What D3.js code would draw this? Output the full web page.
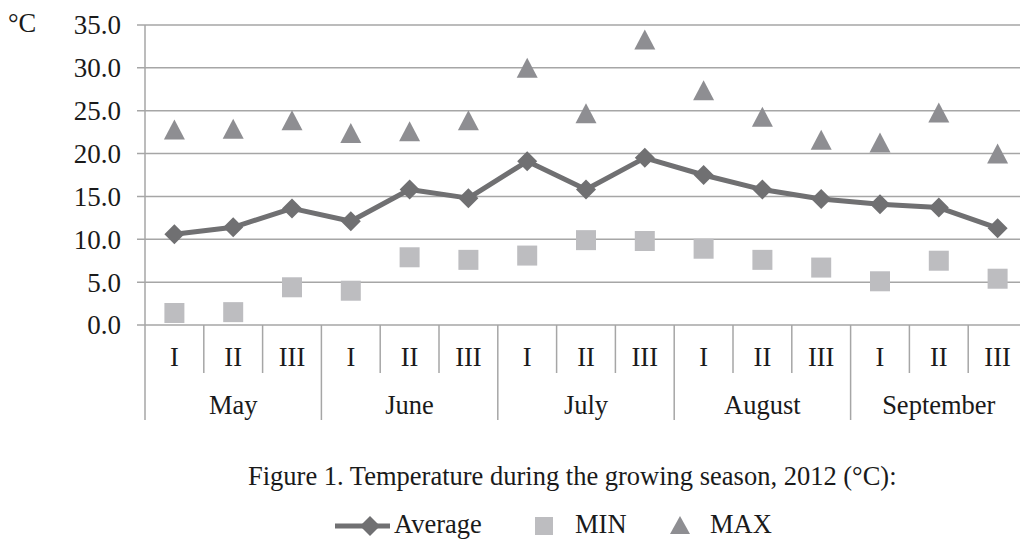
<!DOCTYPE html>
<html><head><meta charset="utf-8">
<script src="https://cdn.jsdelivr.net/npm/d3@7"></script>
<style>body{margin:0;background:#fff}svg{display:block;font-family:"Liberation Serif","Times New Roman",serif}</style>
</head><body><svg id="c" width="1020" height="539"></svg>
<script>
const months = ["May","June","July","August","September"];
const decades = ["I","II","III"];
const average = [10.6,11.4,13.6,12.1,15.8,14.8,19.1,15.8,19.5,17.5,15.8,14.7,14.1,13.7,11.3];
const minT = [1.4,1.5,4.4,4.0,7.9,7.6,8.1,9.9,9.8,8.9,7.6,6.7,5.1,7.5,5.4];
const maxT = [22.8,22.9,23.9,22.4,22.6,23.9,30.0,24.7,33.3,27.4,24.3,21.6,21.3,24.8,20.0];
const yTicks = [0,5,10,15,20,25,30,35];

const cats = [];
months.forEach(m => decades.forEach(d => cats.push(m + "|" + d)));

const svg = d3.select("#c");
const L = 145, R = 1027, T = 25, B = 325;
const x = d3.scaleBand().domain(cats).range([L, R]);
const y = d3.scaleLinear().domain([0, 35]).range([B, T]);
const gridC = "#a6a6a6";
const txtC = "#1a1a1a";
const FS = 26.5;

// gridlines and y ticks
svg.append("g").selectAll("line").data(yTicks).join("line")
  .attr("x1", L - 8).attr("x2", 1020)
  .attr("y1", d => y(d)).attr("y2", d => y(d))
  .attr("stroke", gridC).attr("stroke-width", 1.5);
svg.append("g").selectAll("text").data(yTicks).join("text")
  .attr("x", 121).attr("y", d => y(d)).attr("dy", "0.35em")
  .attr("text-anchor", "end").attr("font-size", 27).attr("fill", txtC)
  .text(d => d.toFixed(1));
svg.append("text").attr("x", 8).attr("y", 23).attr("dy", "0.35em")
  .attr("font-size", FS).attr("fill", txtC).text("°C");

// left axis
svg.append("line").attr("x1", L).attr("x2", L).attr("y1", T).attr("y2", 420)
  .attr("stroke", gridC).attr("stroke-width", 1.5);

// category separators
const g2 = svg.append("g");
cats.forEach((c, i) => {
  const xr = x(c) + x.bandwidth();
  const isMonthEnd = (i % 3 === 2);
  g2.append("line").attr("x1", xr).attr("x2", xr).attr("y1", B)
    .attr("y2", isMonthEnd ? 420 : 373).attr("stroke", gridC).attr("stroke-width", 1.5);
});
g2.selectAll("text.sub").data(cats).join("text").attr("class","sub")
  .attr("x", d => x(d) + x.bandwidth()/2).attr("y", 357).attr("dy","0.35em")
  .attr("text-anchor","middle").attr("font-size",FS).attr("fill",txtC)
  .text(d => d.split("|")[1]);
g2.selectAll("text.mon").data(months).join("text").attr("class","mon")
  .attr("x", m => (x(m+"|I") + x(m+"|III") + x.bandwidth())/2).attr("y", 405).attr("dy","0.35em")
  .attr("text-anchor","middle").attr("font-size",FS).attr("fill",txtC)
  .text(m => m);

const cx = i => x(cats[i]) + x.bandwidth()/2;
const lineC = "#707072", minC = "#bdbdc0", maxC = "#8e8e92";

// MIN squares
svg.append("g").selectAll("rect").data(minT).join("rect")
  .attr("x", (d,i) => cx(i) - 10).attr("y", d => y(d) - 10)
  .attr("width", 20).attr("height", 20).attr("fill", minC);

// MAX triangles
svg.append("g").selectAll("path").data(maxT).join("path")
  .attr("d", "M0,-10L10.5,10L-10.5,10Z")
  .attr("transform", (d,i) => `translate(${cx(i)},${y(d)})`).attr("fill", maxC);

// Average line
svg.append("path").datum(average)
  .attr("d", d3.line().x((d,i) => cx(i)).y(d => y(d)))
  .attr("fill","none").attr("stroke", lineC).attr("stroke-width", 5).attr("stroke-linejoin","round");
svg.append("g").selectAll("path").data(average).join("path")
  .attr("d","M0,-10L10,0L0,10L-10,0Z")
  .attr("transform", (d,i) => `translate(${cx(i)},${y(d)})`).attr("fill", lineC);

// caption
svg.append("text").attr("x", 248).attr("y", 485)
  .attr("font-size",FS).attr("fill",txtC)
  .text("Figure 1. Temperature during the growing season, 2012 (°C):");

// legend
const ly = 526;
const lb = 533;
svg.append("line").attr("x1",335).attr("x2",390).attr("y1",ly).attr("y2",ly)
  .attr("stroke",lineC).attr("stroke-width",5);
svg.append("path").attr("d","M0,-10L10,0L0,10L-10,0Z").attr("transform",`translate(370,${ly})`).attr("fill",lineC);
svg.append("text").attr("x",394).attr("y",lb).attr("font-size",FS).attr("fill",txtC).text("Average");
svg.append("rect").attr("x",535).attr("y",ly-9).attr("width",18).attr("height",18).attr("fill",minC);
svg.append("text").attr("x",575).attr("y",lb).attr("font-size",FS).attr("fill",txtC).text("MIN");
svg.append("path").attr("d","M0,-9L10,9L-10,9Z").attr("transform",`translate(680,${ly-1})`).attr("fill",maxC);
svg.append("text").attr("x",710).attr("y",lb).attr("font-size",FS).attr("fill",txtC).text("MAX");
</script></body></html>
